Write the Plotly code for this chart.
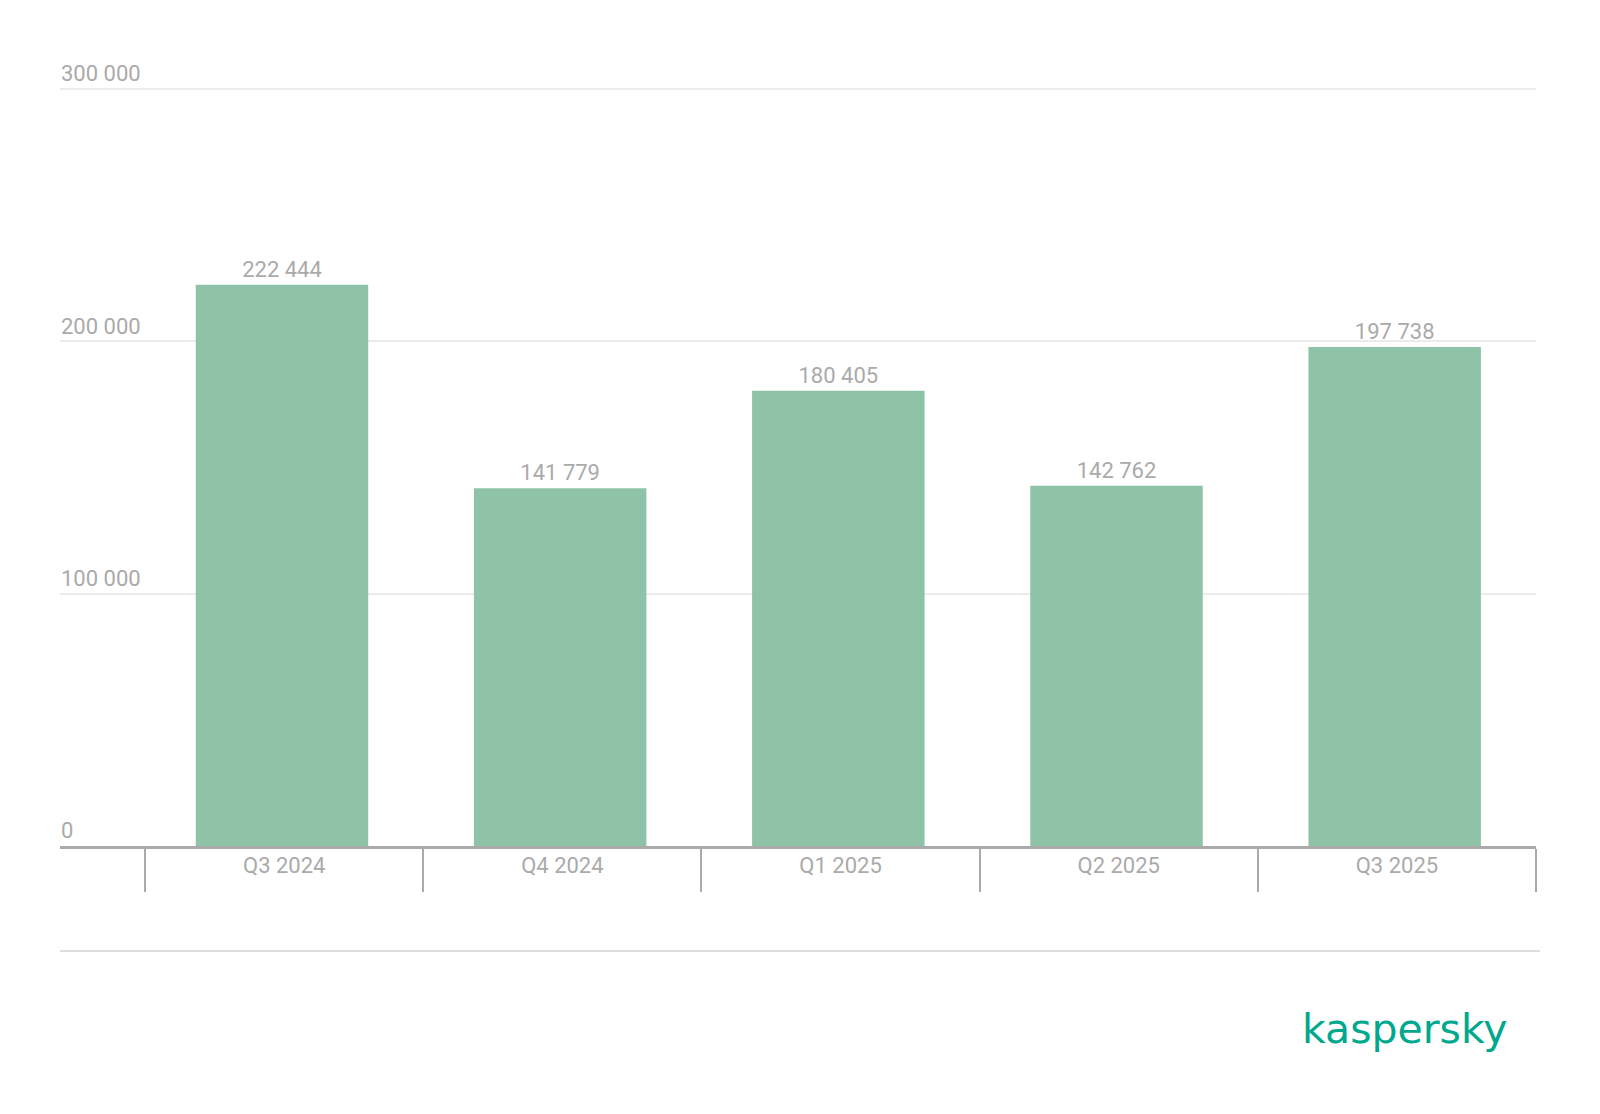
import plotly.graph_objects as go

categories = ["Q3 2024", "Q4 2024", "Q1 2025", "Q2 2025", "Q3 2025"]
values = [222444, 141779, 180405, 142762, 197738]
y_ticks = [0, 100000, 200000, 300000]

GRAY = "#aaaaaa"
# Page has an 8px body margin; figure coords = page coords - 8
W, H = 1592, 1106
L, R, T, B = 52, 64, 52, 268
PW, PH = W - L - R, H - T - B


def px_x(x):
    return (x - 8 - L) / PW


def px_y(y):
    return 1 - (y - 8 - T) / PH


fig = go.Figure()
fig.add_trace(go.Bar(
    x=categories, y=values,
    width=0.62, offset=-0.318,
    marker=dict(color="#8fc3a7", line=dict(width=0)),
    texttemplate="%{y:,d}", textposition="outside",
    textfont=dict(family="Roboto", size=22, color=GRAY),
    cliponaxis=False,
))

fig.update_layout(
    width=W, height=H,
    margin=dict(l=L, r=R, t=T, b=B),
    paper_bgcolor="white", plot_bgcolor="white",
    separators=", ",
    showlegend=False,
    font=dict(family="Roboto", color=GRAY, size=22),
    xaxis=dict(
        type="category",
        range=[-0.806, 4.5],
        showline=True, linecolor=GRAY, linewidth=3,
        ticks="outside", tickson="boundaries", ticklen=43, tickwidth=2, tickcolor=GRAY,
        ticklabelstandoff=-2,
        tickfont=dict(family="Roboto", size=22, color=GRAY),
        showgrid=False, fixedrange=True,
    ),
    yaxis=dict(
        range=[0, 311492],
        tickvals=y_ticks, tickformat=",d",
        ticklabelposition="inside top",
        ticklabelstandoff=-2,
        tickfont=dict(family="Roboto", size=22, color=GRAY),
        showgrid=True, gridcolor="#ebebeb", gridwidth=1.5,
        zeroline=False, showline=False, ticks="",
    ),
    shapes=[dict(type="line", xref="paper", yref="paper",
                 x0=0, x1=px_x(1540), y0=px_y(951), y1=px_y(951),
                 line=dict(color="#dddddd", width=2))],
    annotations=[dict(text="kaspersky", xref="paper", yref="paper",
                      x=px_x(1510), y=px_y(1029),
                      xanchor="right", yanchor="middle", showarrow=False,
                      font=dict(family="DejaVu Sans", size=41, color="#00a88e"))],
)

fig.write_html("out.html")
